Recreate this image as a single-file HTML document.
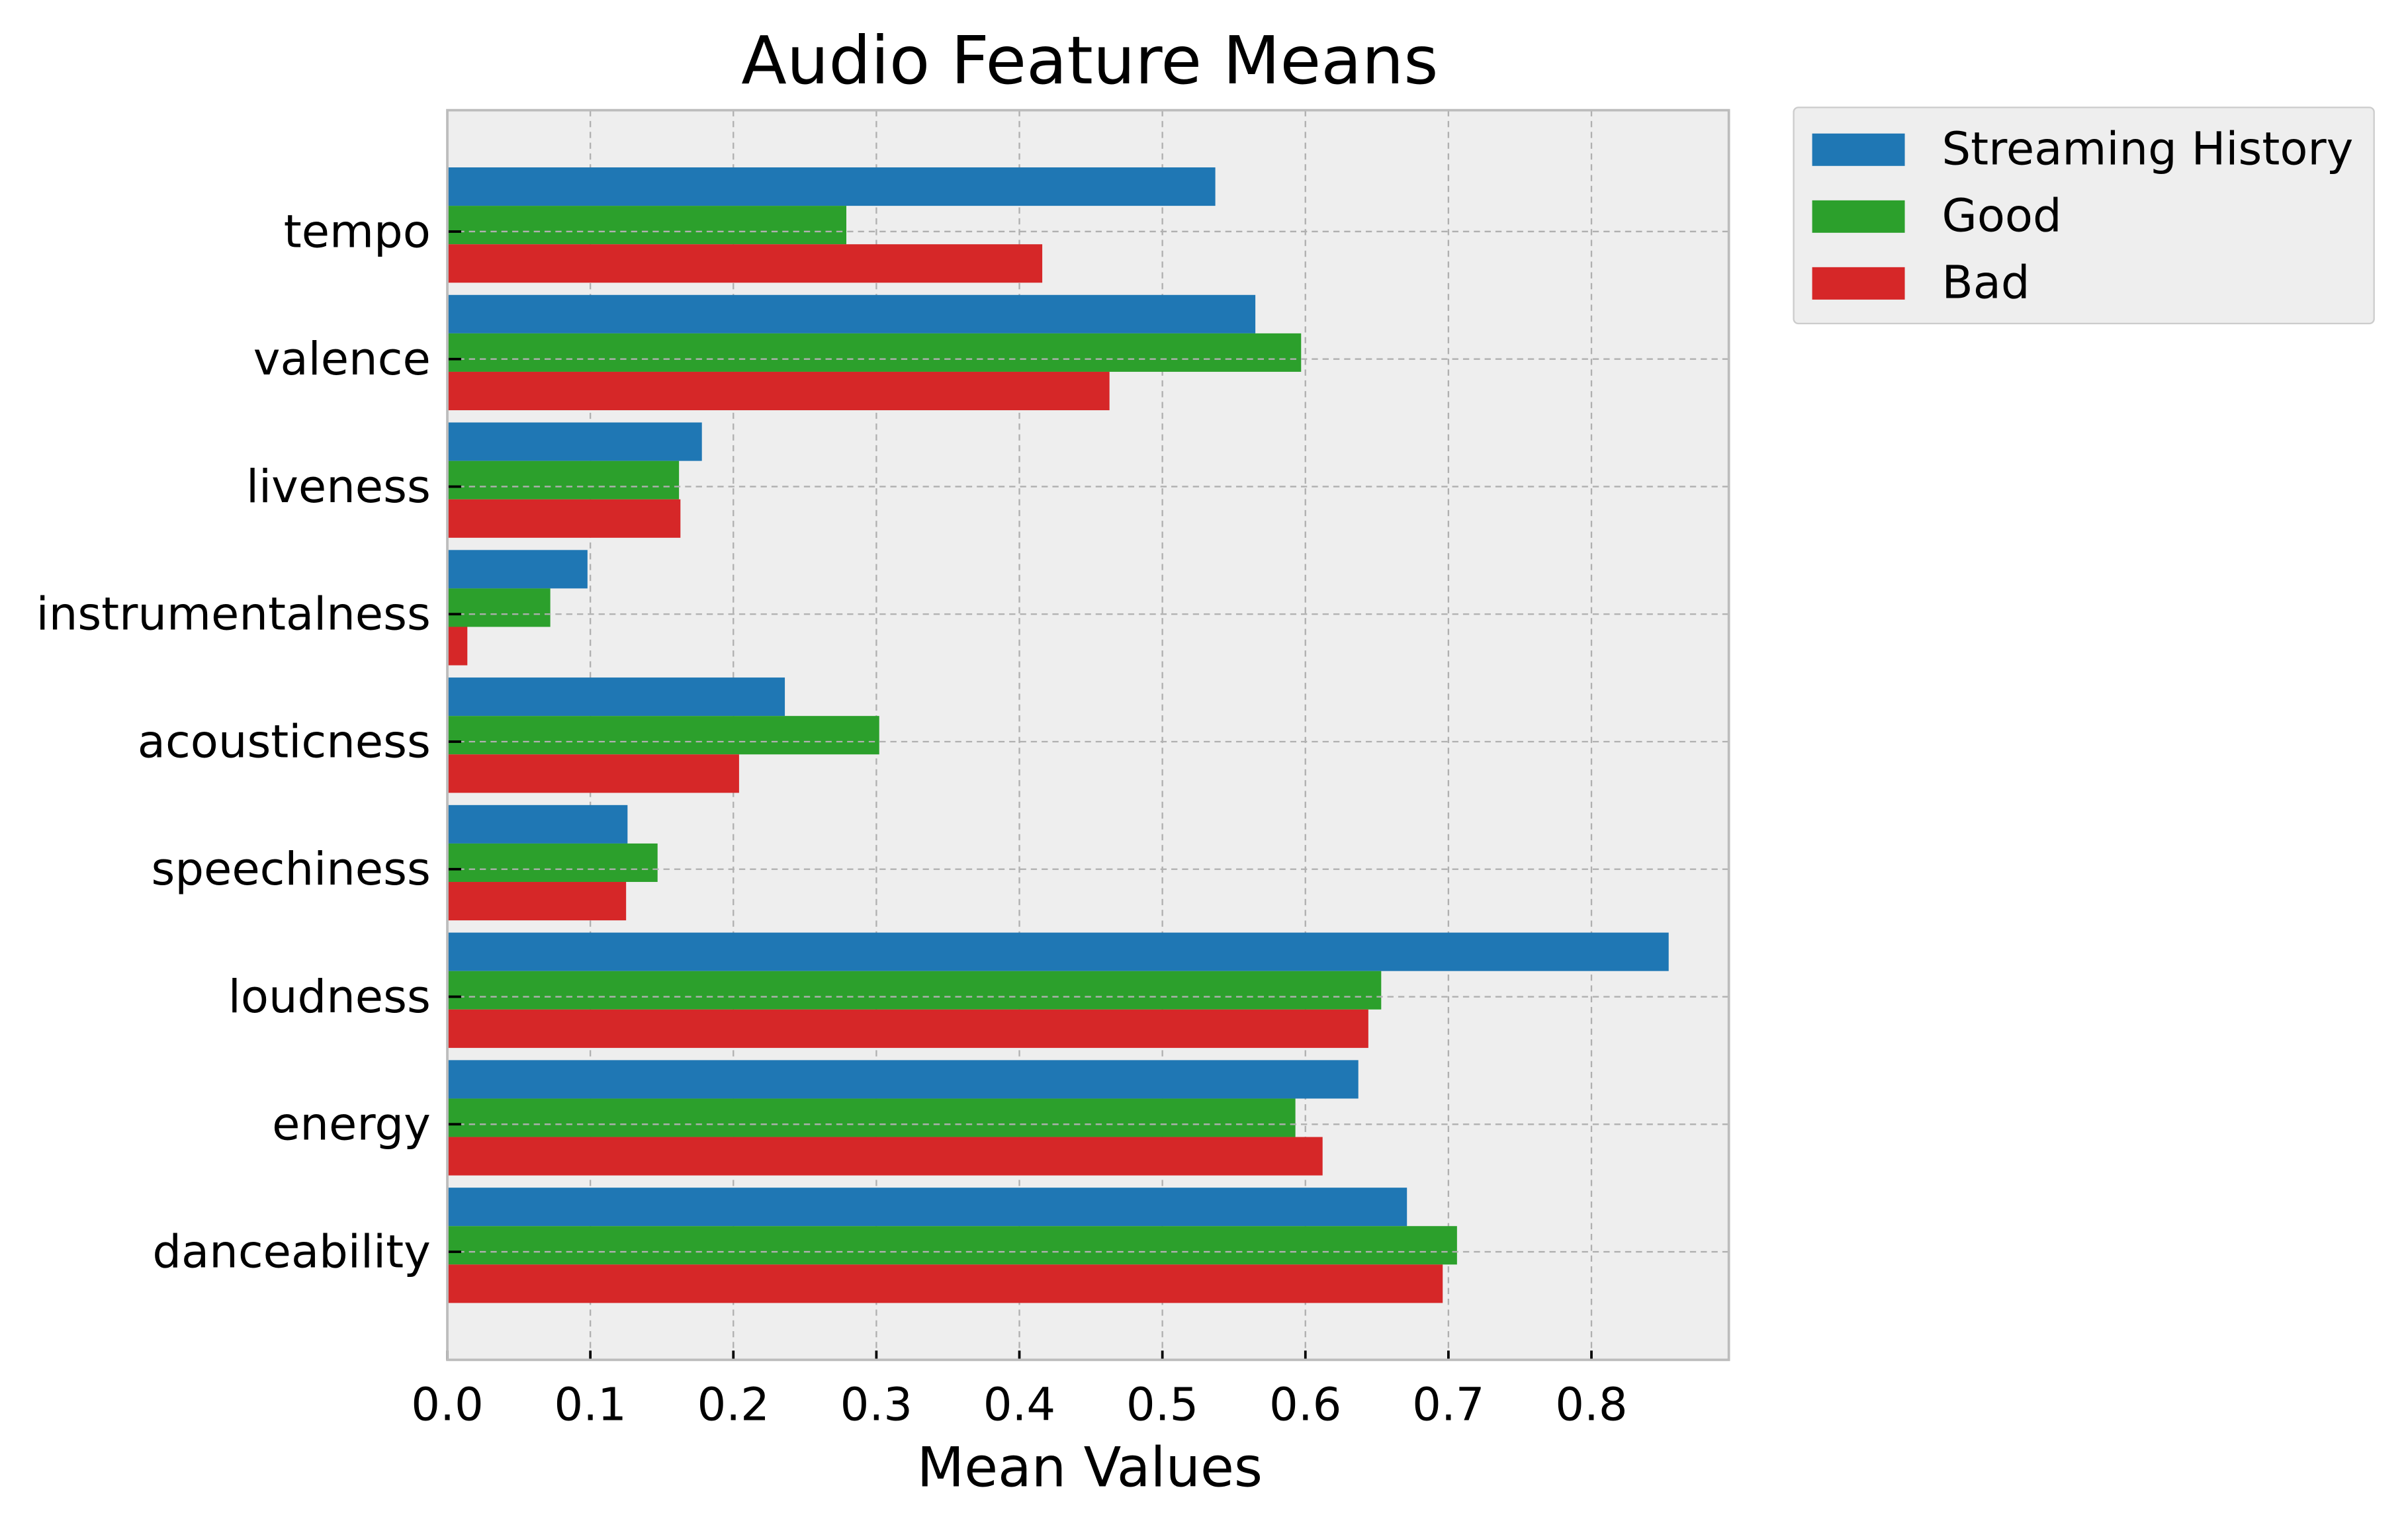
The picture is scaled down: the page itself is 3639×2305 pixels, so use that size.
<!DOCTYPE html>
<html><head><meta charset="utf-8"><style>
html,body{margin:0;padding:0;background:#fff;}
svg{display:block;font-family:"DejaVu Sans","Liberation Sans",sans-serif;}
</style></head><body>
<svg id="chart" width="3639" height="2305" viewBox="0 0 1560 988" preserveAspectRatio="none">
<rect x="0" y="0" width="1560" height="988" fill="#ffffff"/>
<text x="706" y="54" text-anchor="middle" font-size="43" fill="#000">Audio Feature Means</text>
<rect x="289.8" y="71.4" width="830.2" height="809.6" fill="#eeeeee"/>
<g id="grid"></g>
<g id="bars"></g>
<g id="ticks"></g>
<rect x="289.8" y="71.4" width="830.2" height="809.6" fill="none" stroke="#bcbcbc" stroke-width="1.6"/>
<text x="706" y="963" text-anchor="middle" font-size="35.5" fill="#000">Mean Values</text>
<g id="legend"></g>
</svg>
<script>
const categories = ["danceability","energy","loudness","speechiness","acousticness","instrumentalness","liveness","valence","tempo"];
const streamingValues = [0.671,0.637,0.854,0.126,0.236,0.098,0.178,0.565,0.537];
const goodValues = [0.706,0.593,0.653,0.147,0.302,0.072,0.162,0.597,0.279];
const badValues = [0.696,0.612,0.644,0.125,0.204,0.014,0.163,0.463,0.416];
const xTicks = [0,0.1,0.2,0.3,0.4,0.5,0.6,0.7,0.8];
const xTickLabels = ["0.0","0.1","0.2","0.3","0.4","0.5","0.6","0.7","0.8"];
const seriesNames = ["Streaming History","Good","Bad"];
const seriesColors = ["#1f77b4","#2ca02c","#d62728"];

const NS="http://www.w3.org/2000/svg";
const L=289.8,R=1120,T=71.4,B=881;
const X=v=>L+v*926.5;
const Y=i=>811-i*82.625;
const BH=24.9;
function mk(t,a,p){const e=document.createElementNS(NS,t);for(const k in a)e.setAttribute(k,a[k]);p.appendChild(e);return e;}
const grid=document.getElementById('grid'),bars=document.getElementById('bars'),ticks=document.getElementById('ticks'),legend=document.getElementById('legend');

xTicks.forEach((v,i)=>{
  if(v>0){const g=mk('line',{x1:X(v),x2:X(v),y1:T,y2:B,stroke:'#b0b0b0','stroke-width':1,'stroke-dasharray':'4,3'},grid);
  
  }
  const tk=mk('line',{x1:X(v),x2:X(v),y1:B,y2:B-6,stroke:'#000','stroke-width':1.6},ticks);
  
  
  const t=mk('text',{x:X(v),y:B+39,'text-anchor':'middle','font-size':29.5,fill:'#000'},ticks);
  t.textContent=xTickLabels[i];
  
  
});
const series=[streamingValues,goodValues,badValues];
categories.forEach((c,i)=>{
  const cy=Y(i);
  const gc=cy-4.2;
  series.forEach((vals,s)=>{
    const r=mk('rect',{x:L,y:gc-BH*1.5+s*BH,width:X(vals[i])-L,height:BH,fill:seriesColors[s]},bars);
    
    
  });
  const g=mk('line',{x1:L,x2:R,y1:cy,y2:cy,stroke:'#b0b0b0','stroke-width':1,'stroke-dasharray':'4,3'},ticks);
  
  
  const tk=mk('line',{x1:L,x2:L+9,y1:cy,y2:cy,stroke:'#000','stroke-width':1.6},ticks);
  
  
  const t=mk('text',{x:279,y:cy+10,'text-anchor':'end','font-size':29.5,fill:'#000'},ticks);
  t.textContent=c;
  
  
});
const lb=mk('rect',{x:1162,y:69.6,width:376,height:140,rx:3,fill:'#eeeeee',stroke:'#cccccc','stroke-width':1},legend);


seriesNames.forEach((n,s)=>{
  const cy=96.5+s*43.3;
  const p=mk('rect',{x:1174,y:cy-10,width:60,height:21,fill:seriesColors[s]},legend);
  
  
  const t=mk('text',{x:1258,y:cy+10,'font-size':29.5,fill:'#000'},legend);
  t.textContent=n;
  
  
});
</script>
</body></html>
